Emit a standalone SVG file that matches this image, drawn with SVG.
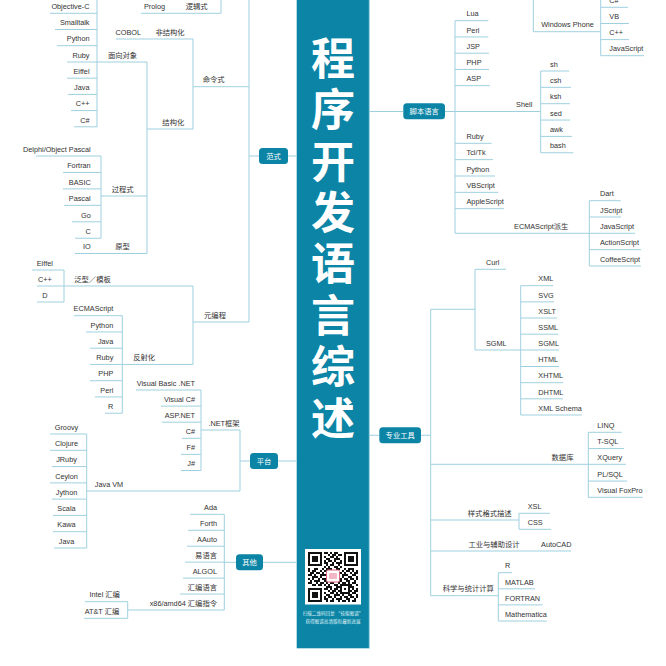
<svg xmlns="http://www.w3.org/2000/svg" width="666" height="666" viewBox="0 0 666 666">
<defs>
<style>
.ln{stroke:#9fd0e0;stroke-width:1;fill:none}
text{font-family:"Liberation Sans","Noto Sans CJK SC",sans-serif;font-size:7.3px;fill:#333}
.e{text-anchor:end}
.m{text-anchor:middle}
.hub rect{fill:#0b84a5}
.hub text{fill:#fff;text-anchor:middle}
.ttl{font-family:"Noto Sans CJK SC",sans-serif;font-size:44px;font-weight:700;fill:#fff;writing-mode:vertical-rl;letter-spacing:7.4px}
.ft{font-family:"Noto Sans CJK SC",sans-serif;font-size:4.6px;fill:#dff0f6;text-anchor:middle}
</style>
<pattern id="qr" x="308" y="552" width="22" height="18" patternUnits="userSpaceOnUse">
<path fill="#111" d="M0 0h2v2h-2z M4 0h4v2h-4z M12 0h2v2h-2z M16 0h4v2h-4z M2 2h4v2h-4z M8 2h4v2h-4z M14 2h2v2h-2z M20 2h2v2h-2z M0 4h4v2h-4z M6 4h2v2h-2z M12 4h6v2h-6z M4 6h6v2h-6z M12 6h2v2h-2z M18 6h4v2h-4z M0 8h2v2h-2z M4 8h2v2h-2z M10 8h2v2h-2z M14 8h4v2h-4z M20 8h2v2h-2z M2 10h2v2h-2z M6 10h6v2h-6z M16 10h4v2h-4z M0 12h4v2h-4z M8 12h2v2h-2z M12 12h4v2h-4z M18 12h2v2h-2z M4 14h4v2h-4z M10 14h4v2h-4z M16 14h2v2h-2z M20 14h2v2h-2z M0 16h2v2h-2z M6 16h4v2h-4z M14 16h2v2h-2z M18 16h4v2h-4z"/>
</pattern>
</defs>
<rect width="666" height="666" fill="#fff"/>

<g id="center">
<rect x="296.7" y="-5" width="72.6" height="653.3" fill="#0b84a5"/>
<line x1="369.3" y1="0" x2="369.3" y2="648.3" stroke="#9fd0e0" stroke-width="1"/>
<text class="ttl" x="333" y="36">程序开发语言综述</text>
<rect x="305" y="549" width="56" height="55.5" fill="#fff"/>
<rect x="308" y="552" width="50" height="50" fill="url(#qr)"/>
<rect x="308" y="552" width="16" height="16" fill="#fff"/>
<rect x="342" y="552" width="16" height="16" fill="#fff"/>
<rect x="308" y="586" width="16" height="16" fill="#fff"/>
<rect x="308" y="552" width="14" height="14" fill="#111"/><rect x="310" y="554" width="10" height="10" fill="#fff"/><rect x="312" y="556" width="6" height="6" fill="#111"/>
<rect x="344" y="552" width="14" height="14" fill="#111"/><rect x="346" y="554" width="10" height="10" fill="#fff"/><rect x="348" y="556" width="6" height="6" fill="#111"/>
<rect x="308" y="588" width="14" height="14" fill="#111"/><rect x="310" y="590" width="10" height="10" fill="#fff"/><rect x="312" y="592" width="6" height="6" fill="#111"/>
<rect x="340" y="584" width="10" height="10" fill="#111"/><rect x="342" y="586" width="6" height="6" fill="#fff"/><rect x="344" y="588" width="2" height="2" fill="#111"/>
<rect x="326.5" y="570" width="13" height="12" rx="1.5" fill="#fff" stroke="#e0607a" stroke-width="1"/>
<rect x="329" y="573" width="8" height="6" rx="1" fill="#f3b6c4"/>
<text class="ft" x="333" y="614.5">扫描二维码回复 “技能图谱”</text>
<text class="ft" x="333" y="622.5">获得图谱高清版和最新进展</text>
</g>

<g id="connectors" class="ln">
<path d="M288 156H297M278 461H297M263 562.3H297M369 111.5H403M369 435.3H379"/>
<path d="M141 13.3H221M221 0V13.3M97 0V126.8M50 13.3H97M55 29.5H97M57 45.7H97M67 62H147M67 78.2H97M68 94.4H97M71 110.6H97M74 126.8H97"/>
<path d="M147 62V253.5M116 39H193M147 129H193M193 39V129M193 86.7H249M249 0V322M249 156H259"/>
<path d="M101 196H147M101 156V238.25M36 156H101M63 172.45H101M63 188.9H101M64 205.35H101M72 221.8H101M75 238.25H101M75 253.5H147"/>
<path d="M193 322H249M193 286V364.45M37 286H193M32 270H64M37 302H64M64 270V302"/>
<path d="M90 364.45H193M122.3 315.7V413.2M74 315.7H122.3M86 331.95H122.3M90 348.2H122.3M90 380.7H122.3M95 396.95H122.3M105 413.2H122.3"/>
<path d="M240 461H250M240 430V491M201 430H240M201 390V470.5M136 390H201M161 406.1H201M162 422.2H201M182 438.3H201M181 454.4H201M181 470.5H201"/>
<path d="M86.7 491H240M86.7 434V548M50 434H86.7M50 450.3H86.7M52 466.6H86.7M50 482.9H86.7M52 499.1H86.7M53 515.4H86.7M53 531.7H86.7M54 548H86.7"/>
<path d="M224.3 562.3H236M224.3 514.3V610M190 514.3H224.3M188 530.25H224.3M187 546.2H224.3M185 562.15H224.3M183 578.1H224.3M180 594.05H224.3M127.7 610H224.3M85 601.7H127.7M84 618.3H127.7M127.7 601.7V618.3"/>
<path d="M445 111.5H540.7M455 20.7V233.3M455 20.7H488.3M455 36.95H488.3M455 53.2H489M455 69.45H489M455 85.7H490M455 143.3H491.7M455 159.65H493M455 176H495M455 192.35H498.3M455 208.7H504M455 233.3H589.3"/>
<path d="M540.7 71V152.75M540.7 71H569M540.7 87.35H571M540.7 103.7H570M540.7 120.05H570M540.7 136.4H572M540.7 152.75H573.3"/>
<path d="M589.3 200.7V266M589.3 200.7H620.7M589.3 217H621M589.3 233.3H635M589.3 249.65H641M589.3 266H641"/>
<path d="M533.3 0V31.7H600.7M600.7 0V55.7M600.7 7.3H628M600.7 23.5H629M600.7 39.6H629M600.7 55.7H644"/>
<path d="M421 435.3H430.7M430.7 309.3V595.7M430.7 309.3H475M475 269.3V350M475 269.3H506M475 350H559"/>
<path d="M520.7 285.7V415M520.7 285.7H553.3M520.7 301.9H554M520.7 318H557M520.7 334.2H558.3M520.7 366.5H559M520.7 382.7H563.3M520.7 398.8H563M520.7 415H581.7"/>
<path d="M430.7 464.3H588.3M588.3 432.3V497.3M588.3 432.3H621.7M588.3 448.55H624M588.3 464.3H626M588.3 481.05H627M588.3 497.3H642.7"/>
<path d="M430.7 520H519M519 513.3V529.3M519 513.3H550M519 529.3H551M430.7 551H571"/>
<path d="M430.7 595.7H498.3M498.3 572.7V621M498.3 572.7H512M498.3 588.8H535M498.3 604.9H542.7M498.3 621H546.7"/>
</g>

<g id="hub-fanshi" class="hub"><rect x="259" y="148" width="29" height="16" rx="3.5"/><text x="273.5" y="158.6">范式</text></g>
<g id="hub-pingtai" class="hub"><rect x="250" y="453" width="28" height="16" rx="3.5"/><text x="264" y="463.6">平台</text></g>
<g id="hub-qita" class="hub"><rect x="236" y="554.3" width="27" height="16" rx="3.5"/><text x="249.5" y="564.9">其他</text></g>
<g id="hub-jiaoben" class="hub"><rect x="403.3" y="103.3" width="41.7" height="16" rx="3.5"/><text x="424.2" y="113.9">脚本语言</text></g>
<g id="hub-zhuanye" class="hub"><rect x="379.3" y="427.3" width="41.7" height="16" rx="3.5"/><text x="400.2" y="437.9">专业工具</text></g>

<g id="n-luoji"><text class="m" x="154.5" y="9">Prolog</text><text class="m" x="196.7" y="9">逻辑式</text></g>
<g id="n-oo-list">
<text class="e" x="89.5" y="9">Objective-C</text>
<text class="e" x="89.5" y="25.2">Smalltalk</text>
<text class="e" x="89.5" y="41.4">Python</text>
<text class="e" x="89.5" y="57.7">Ruby</text>
<text class="e" x="89.5" y="73.9">Eiffel</text>
<text class="e" x="89.5" y="90.1">Java</text>
<text class="e" x="89.5" y="106.3">C++</text>
<text class="e" x="89.5" y="122.5">C#</text>
</g>
<g id="n-feijiegou"><text class="m" x="128.3" y="34.7">COBOL</text><text class="m" x="170" y="34.7">非结构化</text></g>
<g id="n-mianxiang"><text class="m" x="122.5" y="57.7">面向对象</text></g>
<g id="n-mingling"><text class="m" x="213.7" y="82.4">命令式</text></g>
<g id="n-jiegou"><text class="m" x="173.3" y="124.7">结构化</text></g>
<g id="n-proc-list">
<text class="e" x="90.7" y="151.7">Delphi/Object Pascal</text>
<text class="e" x="90.7" y="168.15">Fortran</text>
<text class="e" x="90.7" y="184.6">BASIC</text>
<text class="e" x="90.7" y="201.05">Pascal</text>
<text class="e" x="90.7" y="217.5">Go</text>
<text class="e" x="90.7" y="233.95">C</text>
</g>
<g id="n-guocheng"><text class="m" x="122.7" y="191.7">过程式</text></g>
<g id="n-yuanxing"><text class="e" x="90.7" y="249.2">IO</text><text class="m" x="122.5" y="249.2">原型</text></g>
<g id="n-fanxing-list">
<text class="m" x="44.8" y="265.7">Eiffel</text>
<text class="m" x="44.8" y="281.7">C++</text>
<text class="m" x="44.8" y="297.7">D</text>
</g>
<g id="n-fanxing"><text class="m" x="92.5" y="281.7">泛型／模板</text></g>
<g id="n-yuanbiancheng"><text class="m" x="215" y="317.7">元编程</text></g>
<g id="n-refl-list">
<text class="e" x="113.3" y="311.4">ECMAScript</text>
<text class="e" x="113.3" y="327.65">Python</text>
<text class="e" x="113.3" y="343.9">Java</text>
<text class="e" x="113.3" y="360.15">Ruby</text>
<text class="e" x="113.3" y="376.4">PHP</text>
<text class="e" x="113.3" y="392.65">Perl</text>
<text class="e" x="113.3" y="408.9">R</text>
</g>
<g id="n-fanshehua"><text class="m" x="144.2" y="360.15">反射化</text></g>

<g id="n-net-list">
<text class="e" x="195" y="385.7">Visual Basic .NET</text>
<text class="e" x="195" y="401.8">Visual C#</text>
<text class="e" x="195" y="417.9">ASP.NET</text>
<text class="e" x="195" y="434">C#</text>
<text class="e" x="195" y="450.1">F#</text>
<text class="e" x="195" y="466.2">J#</text>
</g>
<g id="n-net"><text class="m" x="224" y="425.7">.NET框架</text></g>
<g id="n-javavm"><text class="m" x="109" y="486.7">Java VM</text></g>
<g id="n-jvm-list">
<text class="m" x="66.5" y="429.7">Groovy</text>
<text class="m" x="66.5" y="446">Clojure</text>
<text class="m" x="66.5" y="462.3">JRuby</text>
<text class="m" x="66.5" y="478.6">Ceylon</text>
<text class="m" x="66.5" y="494.8">Jython</text>
<text class="m" x="66.5" y="511.1">Scala</text>
<text class="m" x="66.5" y="527.4">Kawa</text>
<text class="m" x="66.5" y="543.7">Java</text>
</g>
<g id="n-other-list">
<text class="e" x="217" y="510">Ada</text>
<text class="e" x="217" y="525.95">Forth</text>
<text class="e" x="217" y="541.9">AAuto</text>
<text class="e" x="217" y="557.85">易语言</text>
<text class="e" x="217" y="573.8">ALGOL</text>
<text class="e" x="217" y="589.75">汇编语言</text>
<text class="e" x="217" y="605.7">x86/amd64 汇编指令</text>
</g>
<g id="n-asm-list"><text class="m" x="104.7" y="597.4">Intel 汇编</text><text class="m" x="102" y="614">AT&amp;T 汇编</text></g>

<g id="n-script-list">
<text x="466.5" y="16.4">Lua</text>
<text x="466.5" y="32.65">Perl</text>
<text x="466.5" y="48.9">JSP</text>
<text x="466.5" y="65.15">PHP</text>
<text x="466.5" y="81.4">ASP</text>
<text x="466.5" y="139">Ruby</text>
<text x="466.5" y="155.35">Tcl/Tk</text>
<text x="466.5" y="171.7">Python</text>
<text x="466.5" y="188.05">VBScript</text>
<text x="466.5" y="204.4">AppleScript</text>
</g>
<g id="n-shell"><text class="m" x="524.2" y="107">Shell</text></g>
<g id="n-shell-list">
<text x="550" y="66.7">sh</text>
<text x="550" y="83.05">csh</text>
<text x="550" y="99.4">ksh</text>
<text x="550" y="115.75">sed</text>
<text x="550" y="132.1">awk</text>
<text x="550" y="148.45">bash</text>
</g>
<g id="n-ecma"><text class="m" x="541.2" y="229">ECMAScript派生</text></g>
<g id="n-ecma-list">
<text x="600" y="196.4">Dart</text>
<text x="600" y="212.7">JScript</text>
<text x="600" y="229">JavaScript</text>
<text x="600" y="245.35">ActionScript</text>
<text x="600" y="261.7">CoffeeScript</text>
</g>
<g id="n-wp"><text class="m" x="567.5" y="27.4">Windows Phone</text></g>
<g id="n-wp-list">
<text x="609.3" y="3">C#</text>
<text x="609.3" y="19.2">VB</text>
<text x="609.3" y="35.3">C++</text>
<text x="609.3" y="51.4">JavaScript</text>
</g>

<g id="n-markup"><text x="486" y="265">Curl</text><text x="486" y="345.7">SGML</text></g>
<g id="n-sgml-list">
<text x="538.3" y="281.4">XML</text>
<text x="538.3" y="297.6">SVG</text>
<text x="538.3" y="313.7">XSLT</text>
<text x="538.3" y="329.9">SSML</text>
<text x="538.3" y="345.7">SGML</text>
<text x="538.3" y="362.2">HTML</text>
<text x="538.3" y="378.4">XHTML</text>
<text x="538.3" y="394.5">DHTML</text>
<text x="538.3" y="410.7">XML Schema</text>
</g>
<g id="n-db"><text class="m" x="562.5" y="460">数据库</text></g>
<g id="n-db-list">
<text x="597.3" y="428">LINQ</text>
<text x="597.3" y="444.25">T-SQL</text>
<text x="597.3" y="460">XQuery</text>
<text x="597.3" y="476.75">PL/SQL</text>
<text x="597.3" y="493">Visual FoxPro</text>
</g>
<g id="n-style"><text class="m" x="489.7" y="515.7">样式格式描述</text><text x="527.7" y="509">XSL</text><text x="527.7" y="525">CSS</text></g>
<g id="n-cad"><text class="m" x="494" y="546.7">工业与辅助设计</text><text class="m" x="556.3" y="546.7">AutoCAD</text></g>
<g id="n-sci"><text class="m" x="468.3" y="591.4">科学与统计计算</text></g>
<g id="n-sci-list">
<text x="505" y="568.4">R</text>
<text x="505" y="584.5">MATLAB</text>
<text x="505" y="600.6">FORTRAN</text>
<text x="505" y="616.7">Mathematica</text>
</g>
</svg>
